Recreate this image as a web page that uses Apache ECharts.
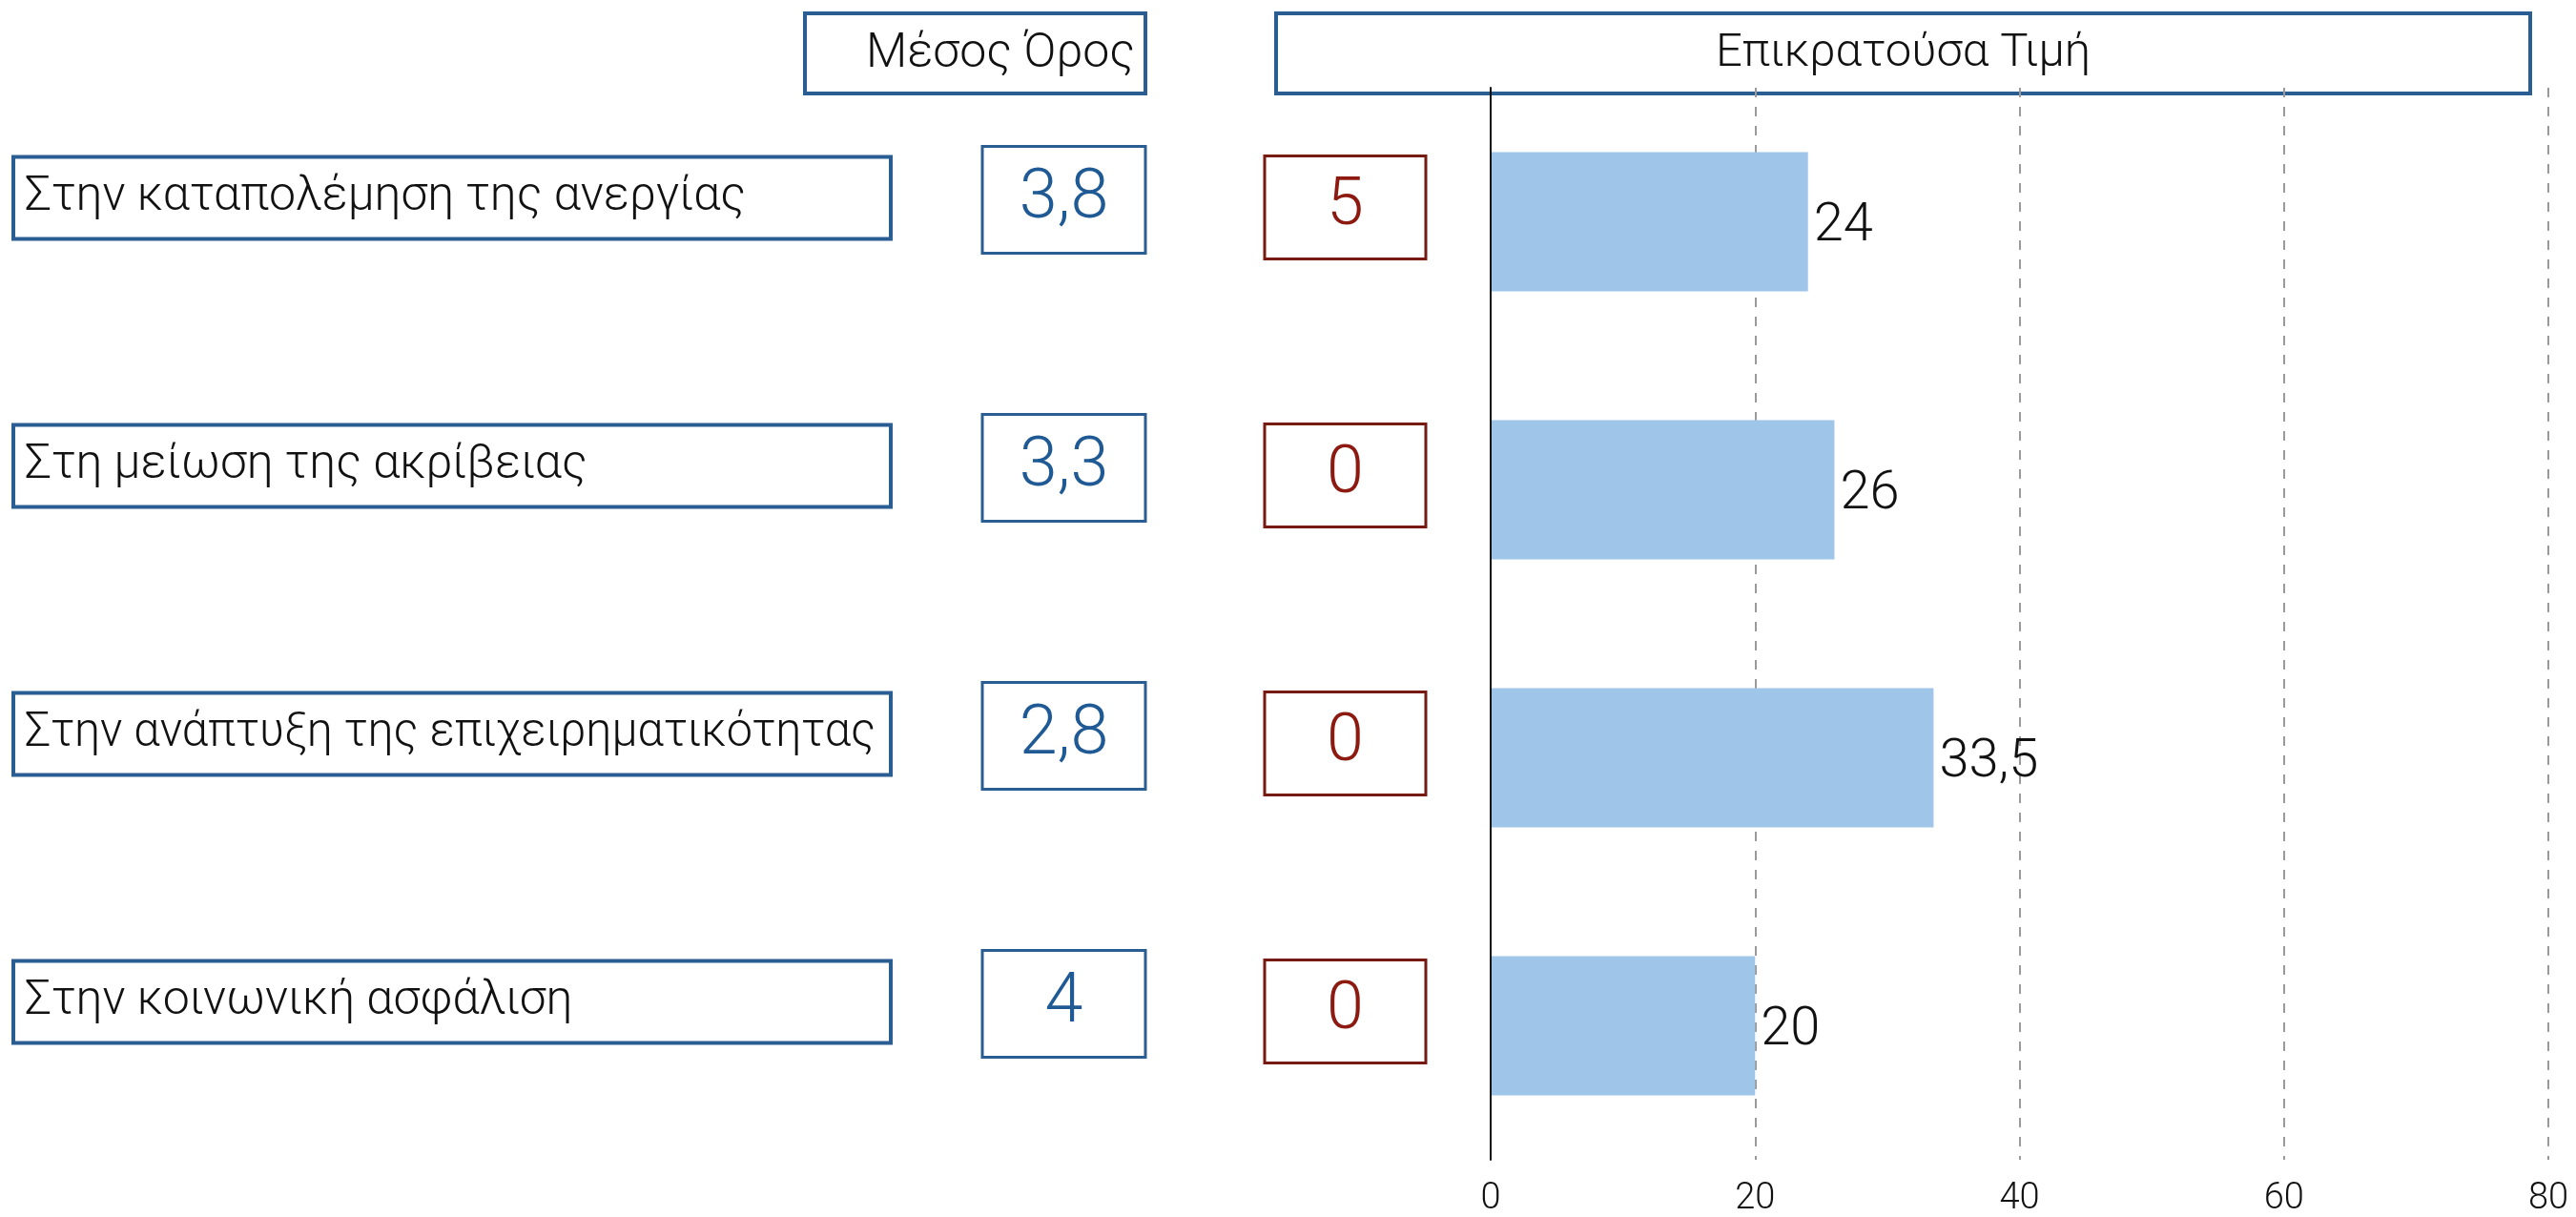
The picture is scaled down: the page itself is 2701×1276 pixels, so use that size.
<!DOCTYPE html>
<html>
<head>
<meta charset="utf-8">
<script src="https://cdn.jsdelivr.net/npm/echarts@6/dist/echarts.min.js"></script>
<style>
html,body{margin:0;padding:0;background:#fff;}
#chart{width:2701px;height:1276px;}
</style>
</head>
<body>
<div id="chart"></div>
<script>
// ---- data ----
const categories = [
  'Στην καταπολέμηση της ανεργίας',
  'Στη μείωση της ακρίβειας',
  'Στην ανάπτυξη της επιχειρηματικότητας',
  'Στην κοινωνική ασφάλιση'
];
const modeShares = [24, 26, 33.5, 20];     // bar values (Επικρατούσα Τιμή %)
const meanValues = [3.8, 3.3, 2.8, 4];      // Μέσος Όρος
const modeValues = [5, 0, 0, 0];            // Επικρατούσα Τιμή
const headerMean = 'Μέσος Όρος';
const headerMode = 'Επικρατούσα Τιμή';
const axisMin = 0, axisMax = 80, axisStep = 20;

// ---- styling ----
const FONT = 'Roboto, "Liberation Sans", sans-serif';
const BLUE_BORDER = '#2a5d92';
const BLUE_TEXT = '#1f5a95';
const RED_BORDER = '#761a12';
const RED_TEXT = '#8c1a10';
const fmt = v => String(v).replace('.', ',');

const measureCtx = document.createElement('canvas').getContext('2d');
function textWidth(txt, font) { measureCtx.font = font; return measureCtx.measureText(txt).width; }

function boxSeries(name, left, width, height, dy, border, lw, textFn, textColor, fontSize, align, inset) {
  return {
    type: 'custom',
    name: name,
    data: categories.map((c, i) => [0, i]),
    encode: { x: 0, y: 1 },
    clip: false,
    silent: true,
    renderItem: function (params, api) {
      const cy = api.coord([0, api.value(1)])[1] + dy;
      const txt = textFn(params.dataIndex);
      const font = '300 ' + fontSize + 'px ' + FONT;
      let sx = 1;
      if (align === 'left') {
        const maxW = width - inset - 16;
        const w = textWidth(txt, font);
        if (w > maxW) sx = maxW / w;
      }
      const tx = align === 'left' ? left + inset : left + width / 2;
      return {
        type: 'group',
        children: [
          { type: 'rect', shape: { x: left, y: cy - height / 2, width: width, height: height },
            style: { fill: '#fff', stroke: border, lineWidth: lw } },
          { type: 'text', x: tx, y: cy, scaleX: sx,
            style: {
              text: txt, x: 0, y: 0,
              align: align, verticalAlign: 'middle',
              font: font, fill: textColor } }
        ]
      };
    }
  };
}

const chart = echarts.init(document.getElementById('chart'), null, { renderer: 'canvas' });
chart.setOption({
  backgroundColor: '#fff',
  animation: false,
  grid: { left: 1563, right: 29, top: 92, bottom: 60, containLabel: false },
  xAxis: {
    type: 'value', min: axisMin, max: axisMax, interval: axisStep,
    axisLine: { show: false }, axisTick: { show: false },
    axisLabel: { color: '#111', fontSize: 38, fontFamily: FONT, fontWeight: 300, margin: 22 },
    splitLine: { show: true, lineStyle: { color: '#9a9a9a', width: 2, type: [10, 10] } }
  },
  yAxis: {
    type: 'category', data: categories, inverse: true,
    axisLine: { show: true, lineStyle: { color: '#111', width: 2 } },
    axisTick: { show: false }, axisLabel: { show: false }, splitLine: { show: false },
    z: 5
  },
  series: [
    {
      type: 'bar', data: modeShares, barWidth: '52%',
      itemStyle: { color: '#9fc5e8' },
      label: { show: true, position: 'right', distance: 6, offset: [0, 5], color: '#111',
        fontSize: 56, fontFamily: FONT, fontWeight: 300, formatter: p => fmt(p.value) }
    },
    boxSeries('labels', 14, 920, 86, -25, BLUE_BORDER, 4, i => categories[i], '#111', 50, 'left', 12),
    boxSeries('mean', 1030, 171, 112, -23, BLUE_BORDER, 3, i => fmt(meanValues[i]), BLUE_TEXT, 72, 'center', 0),
    boxSeries('mode', 1326, 169, 108, -15, RED_BORDER, 3, i => fmt(modeValues[i]), RED_TEXT, 70, 'center', 0)
  ],
  graphic: [
    { type: 'rect', shape: { x: 844, y: 14, width: 357, height: 84 },
      style: { fill: '#fff', stroke: BLUE_BORDER, lineWidth: 4 } },
    { type: 'text', x: 1049, y: 57,
      style: { text: headerMean, align: 'center', verticalAlign: 'middle',
        font: '300 50px ' + FONT, fill: '#111' } },
    { type: 'rect', shape: { x: 1338, y: 14, width: 1315, height: 84 },
      style: { fill: '#fff', stroke: BLUE_BORDER, lineWidth: 4 } },
    { type: 'text', x: 1338 + 1315 / 2, y: 57,
      style: { text: headerMode, align: 'center', verticalAlign: 'middle',
        font: '300 49px ' + FONT, fill: '#111' } }
  ]
});
</script>
</body>
</html>
